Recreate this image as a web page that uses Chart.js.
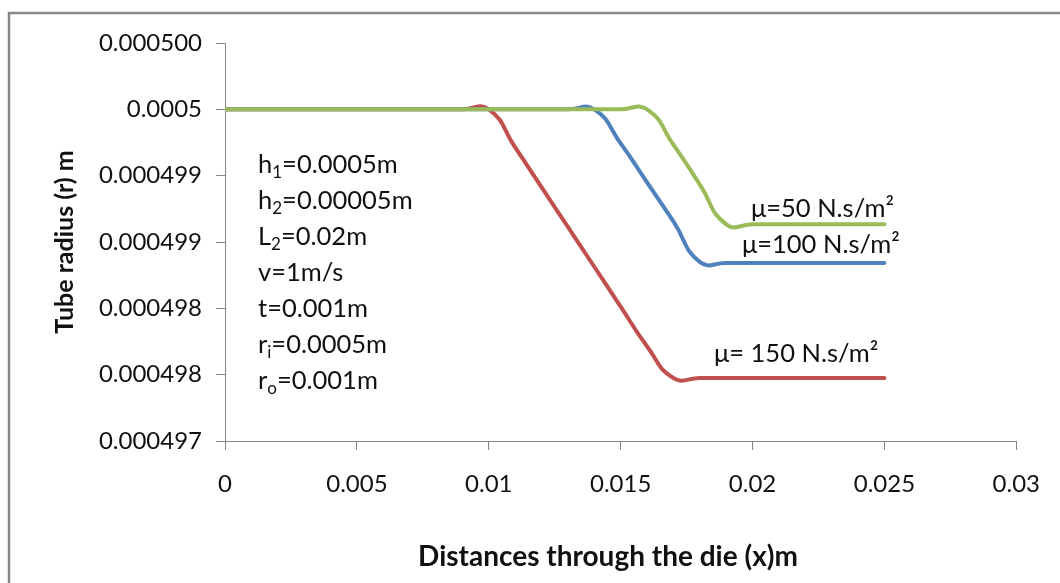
<!DOCTYPE html>
<html>
<head>
<meta charset="utf-8">
<script src="https://cdn.jsdelivr.net/npm/chart.js@4.4.1/dist/chart.umd.min.js"></script>
<style>
html,body{margin:0;padding:0;background:#fff;}
canvas{display:block;}
</style>
</head>
<body>
<canvas id="c" width="1060" height="583"></canvas>
<script>
// ---- data ----
const xValues = [0, 0.001, 0.002, 0.003, 0.004, 0.005, 0.006, 0.007, 0.008, 0.009,
                 0.010, 0.011, 0.012, 0.013, 0.014, 0.015, 0.016, 0.017, 0.018, 0.019,
                 0.020, 0.021, 0.022, 0.023, 0.024, 0.025];

const mu150 = [0.0005, 0.0005, 0.0005, 0.0005, 0.0005, 0.0005, 0.0005, 0.0005, 0.0005, 0.0005,
               0.0005, 0.000499655, 0.000499296, 0.000498936, 0.000498576, 0.000498216, 0.000497857, 0.00049757, 0.00049757, 0.00049757,
               0.00049757, 0.00049757, 0.00049757, 0.00049757, 0.00049757, 0.00049757];

const mu100 = [0.0005, 0.0005, 0.0005, 0.0005, 0.0005, 0.0005, 0.0005, 0.0005, 0.0005, 0.0005,
               0.0005, 0.0005, 0.0005, 0.0005, 0.0005, 0.000499692, 0.00049934, 0.000498987, 0.00049862, 0.00049861,
               0.00049861, 0.00049861, 0.00049861, 0.00049861, 0.00049861, 0.00049861];

const mu50 = [0.0005, 0.0005, 0.0005, 0.0005, 0.0005, 0.0005, 0.0005, 0.0005, 0.0005, 0.0005,
              0.0005, 0.0005, 0.0005, 0.0005, 0.0005, 0.0005, 0.0005, 0.000499681, 0.000499321, 0.00049896,
              0.00049896, 0.00049896, 0.00049896, 0.00049896, 0.00049896, 0.00049896];

const seriesNames = ['\u03bc=50 N.s/m\u00b2', '\u03bc=100 N.s/m\u00b2', '\u03bc= 150 N.s/m\u00b2'];

const xTickValues = [0, 0.005, 0.01, 0.015, 0.02, 0.025, 0.03];
const xTickLabels = ['0', '0.005', '0.01', '0.015', '0.02', '0.025', '0.03'];
const yTickValues = [0.000497, 0.0004976, 0.0004982, 0.0004988, 0.0004994, 0.0005, 0.0005006];
const yTickLabels = ['0.000497', '0.000498', '0.000498', '0.000499', '0.000499', '0.0005', '0.000500'];

const xTitle = 'Distances through the die (x)m';
const yTitle = 'Tube radius (r) m';

// parameter box text (segments: normal / subscript)
const paramLines = [
  [{t:'h'}, {t:'1', sub:true}, {t:'=0.0005m'}],
  [{t:'h'}, {t:'2', sub:true}, {t:'=0.00005m'}],
  [{t:'L'}, {t:'2', sub:true}, {t:'=0.02m'}],
  [{t:'v=1m/s'}],
  [{t:'t=0.001m'}],
  [{t:'r'}, {t:'i', sub:true}, {t:'=0.0005m'}],
  [{t:'r'}, {t:'o', sub:true}, {t:'=0.001m'}]
];

// ---- drawing ----
const FONT = 'Lato, "Open Sans", sans-serif';
const pts = ys => xValues.map((x, i) => ({x: x, y: ys[i]}));

const decorPlugin = {
  id: 'decor',
  beforeDraw(chart) {
    const ctx = chart.ctx;
    ctx.save();
    ctx.fillStyle = '#ffffff';
    ctx.fillRect(0, 0, chart.width, chart.height);
    ctx.strokeStyle = '#878787';
    ctx.lineWidth = 2.5;
    ctx.strokeRect(9, 13, 1200, 800);
    ctx.restore();
  },
  afterDraw(chart) {
    const ctx = chart.ctx;
    ctx.save();
    ctx.fillStyle = '#111111';
    ctx.textBaseline = 'alphabetic';
    ctx.textAlign = 'left';
    const size = 25.5;
    // parameter block
    paramLines.forEach((segs, i) => {
      let x = 258;
      const y = 173 + i * 36;
      segs.forEach(s => {
        if (s.sub) {
          ctx.font = Math.round(size * 0.66) + 'px ' + FONT;
          ctx.fillText(s.t, x, y + 5);
        } else {
          ctx.font = size + 'px ' + FONT;
          ctx.fillText(s.t, x, y);
        }
        x += ctx.measureText(s.t).width;
      });
    });
    // series labels
    ctx.font = '25.5px ' + FONT;
    const labelPos = [[751, 217], [742, 253], [714, 362]];
    seriesNames.forEach((n, i) => ctx.fillText(n, labelPos[i][0], labelPos[i][1]));
    // x axis title
    ctx.font = 'bold 28px ' + FONT;
    ctx.textAlign = 'center';
    ctx.fillText(xTitle, 608, 566);
    ctx.restore();
  }
};

const axisGray = '#868686';

new Chart(document.getElementById('c'), {
  type: 'scatter',
  data: {
    datasets: [
      {label: seriesNames[0], data: pts(mu50), borderColor: '#9BBB59', order: 0},
      {label: seriesNames[1], data: pts(mu100), borderColor: '#4F81BD', order: 1},
      {label: seriesNames[2], data: pts(mu150), borderColor: '#C0504D', order: 2}
    ].map(d => Object.assign(d, {
      showLine: true, borderWidth: 4, pointRadius: 0, pointHoverRadius: 0,
      tension: 0.5, fill: false, backgroundColor: d.borderColor, borderCapStyle: 'round', borderJoinStyle: 'round'
    }))
  },
  options: {
    responsive: false,
    animation: false,
    devicePixelRatio: 1,
    layout: {padding: {top: 43, right: 40, bottom: 0, left: 0}},
    plugins: {legend: {display: false}, tooltip: {enabled: false}},
    scales: {
      x: {
        type: 'linear',
        min: 0, max: 0.03,
        afterBuildTicks: s => { s.ticks = xTickValues.map(v => ({value: v})); },
        afterFit: s => { s.height = 142; },
        ticks: {
          autoSkip: false, maxRotation: 0, padding: 20,
          color: '#111111', font: {family: FONT, size: 24},
          callback: (v, i) => xTickLabels[i]
        },
        grid: {display: true, drawOnChartArea: false, drawTicks: true, tickLength: 9, color: axisGray, lineWidth: 1},
        border: {display: true, color: axisGray, width: 1}
      },
      y: {
        type: 'linear',
        min: 0.000497, max: 0.0005006,
        afterBuildTicks: s => { s.ticks = yTickValues.map(v => ({value: v})); },
        afterFit: s => { s.width = 225; },
        ticks: {
          autoSkip: false, padding: 14,
          color: '#111111', font: {family: FONT, size: 24},
          callback: (v, i) => yTickLabels[i]
        },
        title: {
          display: true, text: yTitle, color: '#111111',
          font: {family: FONT, size: 25, weight: 'bold'},
          padding: {top: 50, bottom: 0}
        },
        grid: {display: true, drawOnChartArea: false, drawTicks: true, tickLength: 9, color: axisGray, lineWidth: 1},
        border: {display: true, color: axisGray, width: 1}
      }
    }
  },
  plugins: [decorPlugin]
});
</script>
</body>
</html>
